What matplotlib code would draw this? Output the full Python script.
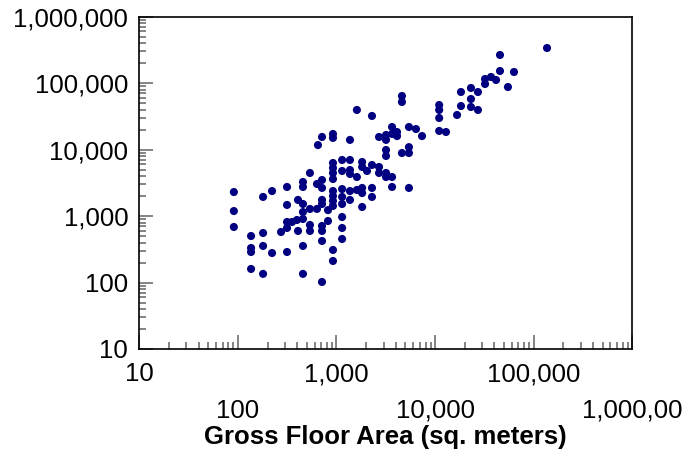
import matplotlib
matplotlib.use("Agg")
import matplotlib.pyplot as plt
from matplotlib.ticker import FixedLocator, LogLocator, NullFormatter

plt.rcParams['font.family'] = ['Liberation Sans', 'DejaVu Sans']

# gross floor area (sq. m) of each building and its y value, read column by column
area = [91, 91, 91,
        136, 136, 136, 136,
        180, 180, 180, 180,
        222, 222,
        274,
        315, 315, 315, 315, 315,
        354, 397, 407, 407,
        457, 457, 457, 457, 457, 457, 457,
        538, 538, 538, 538,
        634, 634,
        649,
        713, 713, 713, 713, 713, 713, 713, 713, 713,
        820, 820,
        921, 921, 921, 921, 921, 921, 921, 921, 921, 921, 921, 921,
        1140, 1140, 1140, 1140, 1140, 1140, 1140, 1140,
        1370, 1370, 1370, 1370, 1370, 1370,
        1610, 1610, 1610,
        1820, 1820, 1820, 1820, 1820,
        2040,
        2290, 2290, 2290, 2290,
        2700, 2700, 2700,
        3180, 3180, 3180, 3180, 3180, 3180,
        3660, 3660, 3660, 3660,
        4110, 4110,
        4610, 4610, 4610,
        5430, 5430, 5430, 5430,
        6400, 7370,
        11000, 11000, 11000, 11000,
        12900, 16700,
        18300, 18300,
        23100, 23100, 23100,
        27200, 27200,
        32100, 32100,
        36900, 41500,
        45500, 45500,
        54800, 63100, 136500]

value = [2300, 1190, 685,
         501, 331, 288, 160,
         1940, 556, 355, 135,
         2380, 278,
         576,
         2740, 1470, 815, 662, 288,
         815, 873, 1750, 597,
         3260, 2740, 1520, 1150, 904, 355, 135,
         4450, 1280, 735, 597,
         3040, 1280,
         11700,
         15500, 3490, 2650, 1750, 1520, 710, 597, 422, 102,
         1230, 843,
         17200, 15000, 6290, 5290, 4450, 3610, 2380, 2000, 1690, 1420, 309, 211,
         6980, 4770, 2550, 1940, 1520, 968, 662, 452,
         14000, 6980, 4930, 4300, 2380, 1750,
         39500, 3870, 2470,
         6510, 5480, 2650, 2220, 1370,
         4770,
         32100, 5870, 2650, 1940,
         15500, 5480, 4450,
         16600, 14000, 9860, 8020, 4450, 3870,
         21900, 17200, 3870, 2740,
         18400, 16000,
         64100, 52100, 8890,
         21900, 10900, 8890, 2650,
         20400, 16000,
         46900, 39500, 29900, 19100,
         18400, 33200,
         73600, 45300,
         84600, 57800, 43800,
         73600, 39500,
         115500, 97100,
         123800, 111600,
         265400, 152400,
         87500, 147200, 338000]

x_ticks = [10, 100, 1000, 10000, 100000, 1000000]
x_labels = ['10', '\n100', '1,000', '\n10,000', '100,000', '\n1,000,00']
y_ticks = [10, 100, 1000, 10000, 100000, 1000000]
y_labels = ['10', '100', '1,000', '10,000', '100,000', '1,000,000']

fig = plt.figure(figsize=(6.93, 4.55), dpi=100)
ax = fig.add_axes([0.201, 0.233, 0.7114, 0.7303])

ax.scatter(area, value, s=34, color='#000080', edgecolors='none', zorder=3)

ax.set_xscale('log')
ax.set_yscale('log')
ax.set_xlim(10, 1e6)
ax.set_ylim(10, 1e6)

ax.xaxis.set_major_locator(FixedLocator(x_ticks))
ax.set_xticklabels(x_labels, fontsize=18.5, linespacing=1.65)
ax.yaxis.set_major_locator(FixedLocator(y_ticks))
ax.set_yticklabels(y_labels, fontsize=18.5)
for axis in (ax.xaxis, ax.yaxis):
    axis.set_minor_locator(LogLocator(base=10, subs=range(2, 10)))
    axis.set_minor_formatter(NullFormatter())

ax.tick_params(which='both', direction='in', top=False, right=False,
               color='#707070', width=1.2)
ax.tick_params(which='major', length=10)
ax.tick_params(which='minor', length=5)
ax.tick_params(axis='x', which='major', pad=9.5)
ax.tick_params(axis='y', which='major', pad=8)

for side in ax.spines.values():
    side.set_linewidth(1.2)
    side.set_color('black')

ax.set_xlabel('Gross Floor Area (sq. meters)', fontsize=18.5, fontweight='bold',
              labelpad=2)

fig.savefig('out.png', dpi=100)
